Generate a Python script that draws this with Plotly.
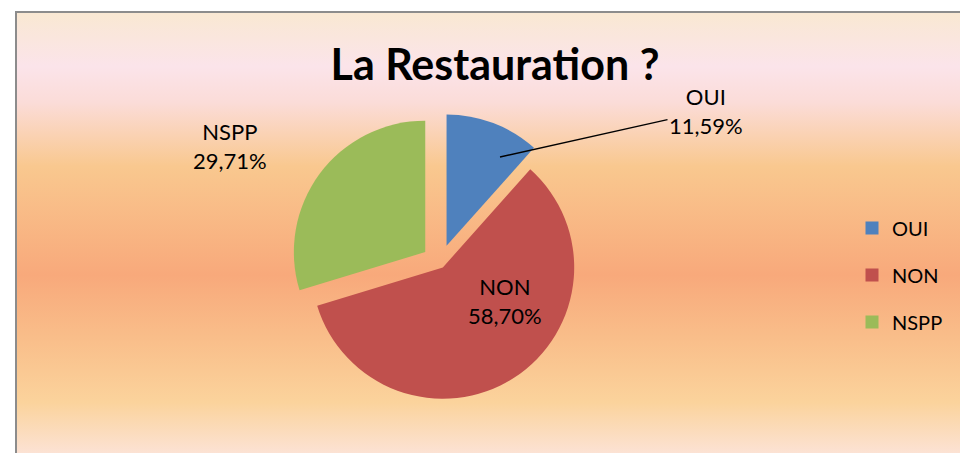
import plotly.graph_objects as go
import urllib.parse

# ---- data ----
categories = ["OUI", "NON", "NSPP"]
values = [11.59, 58.70, 29.71]
value_labels = ["11,59%", "58,70%", "29,71%"]
colors = ["#4F81BD", "#C0504D", "#9BBB59"]
title_text = "La Restauration ?"

# ---- background gradient (SVG data URI) ----
stops = [
    (0.00, "#F9E8D2"), (0.12, "#FBE4EA"), (0.20, "#FBDCD8"),
    (0.34, "#F9C88F"), (0.58, "#F8A97B"), (0.72, "#F9BE8A"),
    (0.86, "#FBD39C"), (1.00, "#FCE6E2"),
]
svg = ('<svg xmlns="http://www.w3.org/2000/svg" width="100" height="100" preserveAspectRatio="none">'
       '<defs><linearGradient id="g" x1="0" y1="0" x2="0" y2="1">'
       + "".join(f'<stop offset="{o}" stop-color="{c}"/>' for o, c in stops)
       + '</linearGradient></defs><rect width="100" height="100" fill="url(#g)"/></svg>')
bg_src = "data:image/svg+xml;charset=utf-8," + urllib.parse.quote(svg)

font_fam = "Lato, Liberation Sans, Arial"
lbl_size = 22

def px(X):
    return (X - 8) / 960.0

def py(Y):
    return 1 - (Y - 8) / 445.0

fig = go.Figure()
fig.add_trace(go.Pie(
    labels=categories,
    values=values,
    textinfo="none",
    sort=False,
    direction="clockwise",
    rotation=0,
    pull=[0.14, 0.04, 0.14],
    marker=dict(colors=colors, line=dict(width=0)),
    domain=dict(x=[0.294, 0.606], y=[0.09, 0.764]),
    showlegend=False,
    hoverinfo="label+percent",
))

# legend entries (one per category, so spacing between items can be set)
for cat, col in zip(categories, colors):
    fig.add_trace(go.Scatter(
        x=[None], y=[None], mode="markers", name=cat, legendgroup=cat,
        marker=dict(symbol="square", size=13, color=col),
        showlegend=True, hoverinfo="skip",
    ))

annotations = [
    dict(text=f"{categories[0]}<br>{value_labels[0]}", xref="paper", yref="paper",
         x=px(500), y=py(157), axref="pixel", ayref="pixel", ax=206, ay=-46,
         showarrow=True, arrowhead=0, arrowwidth=1.3, arrowcolor="#000000",
         font=dict(family=font_fam, size=lbl_size, color="#000000"), align="center"),
    dict(text=f"{categories[1]}<br>{value_labels[1]}", xref="paper", yref="paper",
         x=px(505), y=py(301), showarrow=False, xanchor="center", yanchor="middle",
         font=dict(family=font_fam, size=lbl_size, color="#000000"), align="center"),
    dict(text=f"{categories[2]}<br>{value_labels[2]}", xref="paper", yref="paper",
         x=px(230), y=py(146), showarrow=False, xanchor="center", yanchor="middle",
         font=dict(family=font_fam, size=lbl_size, color="#000000"), align="center"),
]

fig.update_layout(
    width=960, height=445,
    margin=dict(l=0, r=0, t=0, b=0),
    paper_bgcolor="white",
    plot_bgcolor="rgba(0,0,0,0)",
    font=dict(family=font_fam, color="#000000"),
    xaxis=dict(visible=False),
    yaxis=dict(visible=False),
    title=dict(text=f"<b>{title_text}</b>", x=px(495), xanchor="center",
               y=py(65), yanchor="middle",
               font=dict(family=font_fam, size=43, color="#000000")),
    legend=dict(x=px(852), y=py(275), xanchor="left", yanchor="middle",
                font=dict(family=font_fam, size=20, color="#000000"),
                bgcolor="rgba(0,0,0,0)", tracegroupgap=18),
    annotations=annotations,
    images=[dict(source=bg_src, xref="paper", yref="paper",
                 x=px(16), y=py(12), sizex=1.02, sizey=1.02,
                 xanchor="left", yanchor="top", sizing="stretch", layer="below")],
    shapes=[dict(type="rect", xref="paper", yref="paper",
                 x0=px(16), y0=-0.05, x1=1.05, y1=py(12),
                 line=dict(color="#8C8C8C", width=2), fillcolor="rgba(0,0,0,0)")],
)

fig.write_html("out.html")
